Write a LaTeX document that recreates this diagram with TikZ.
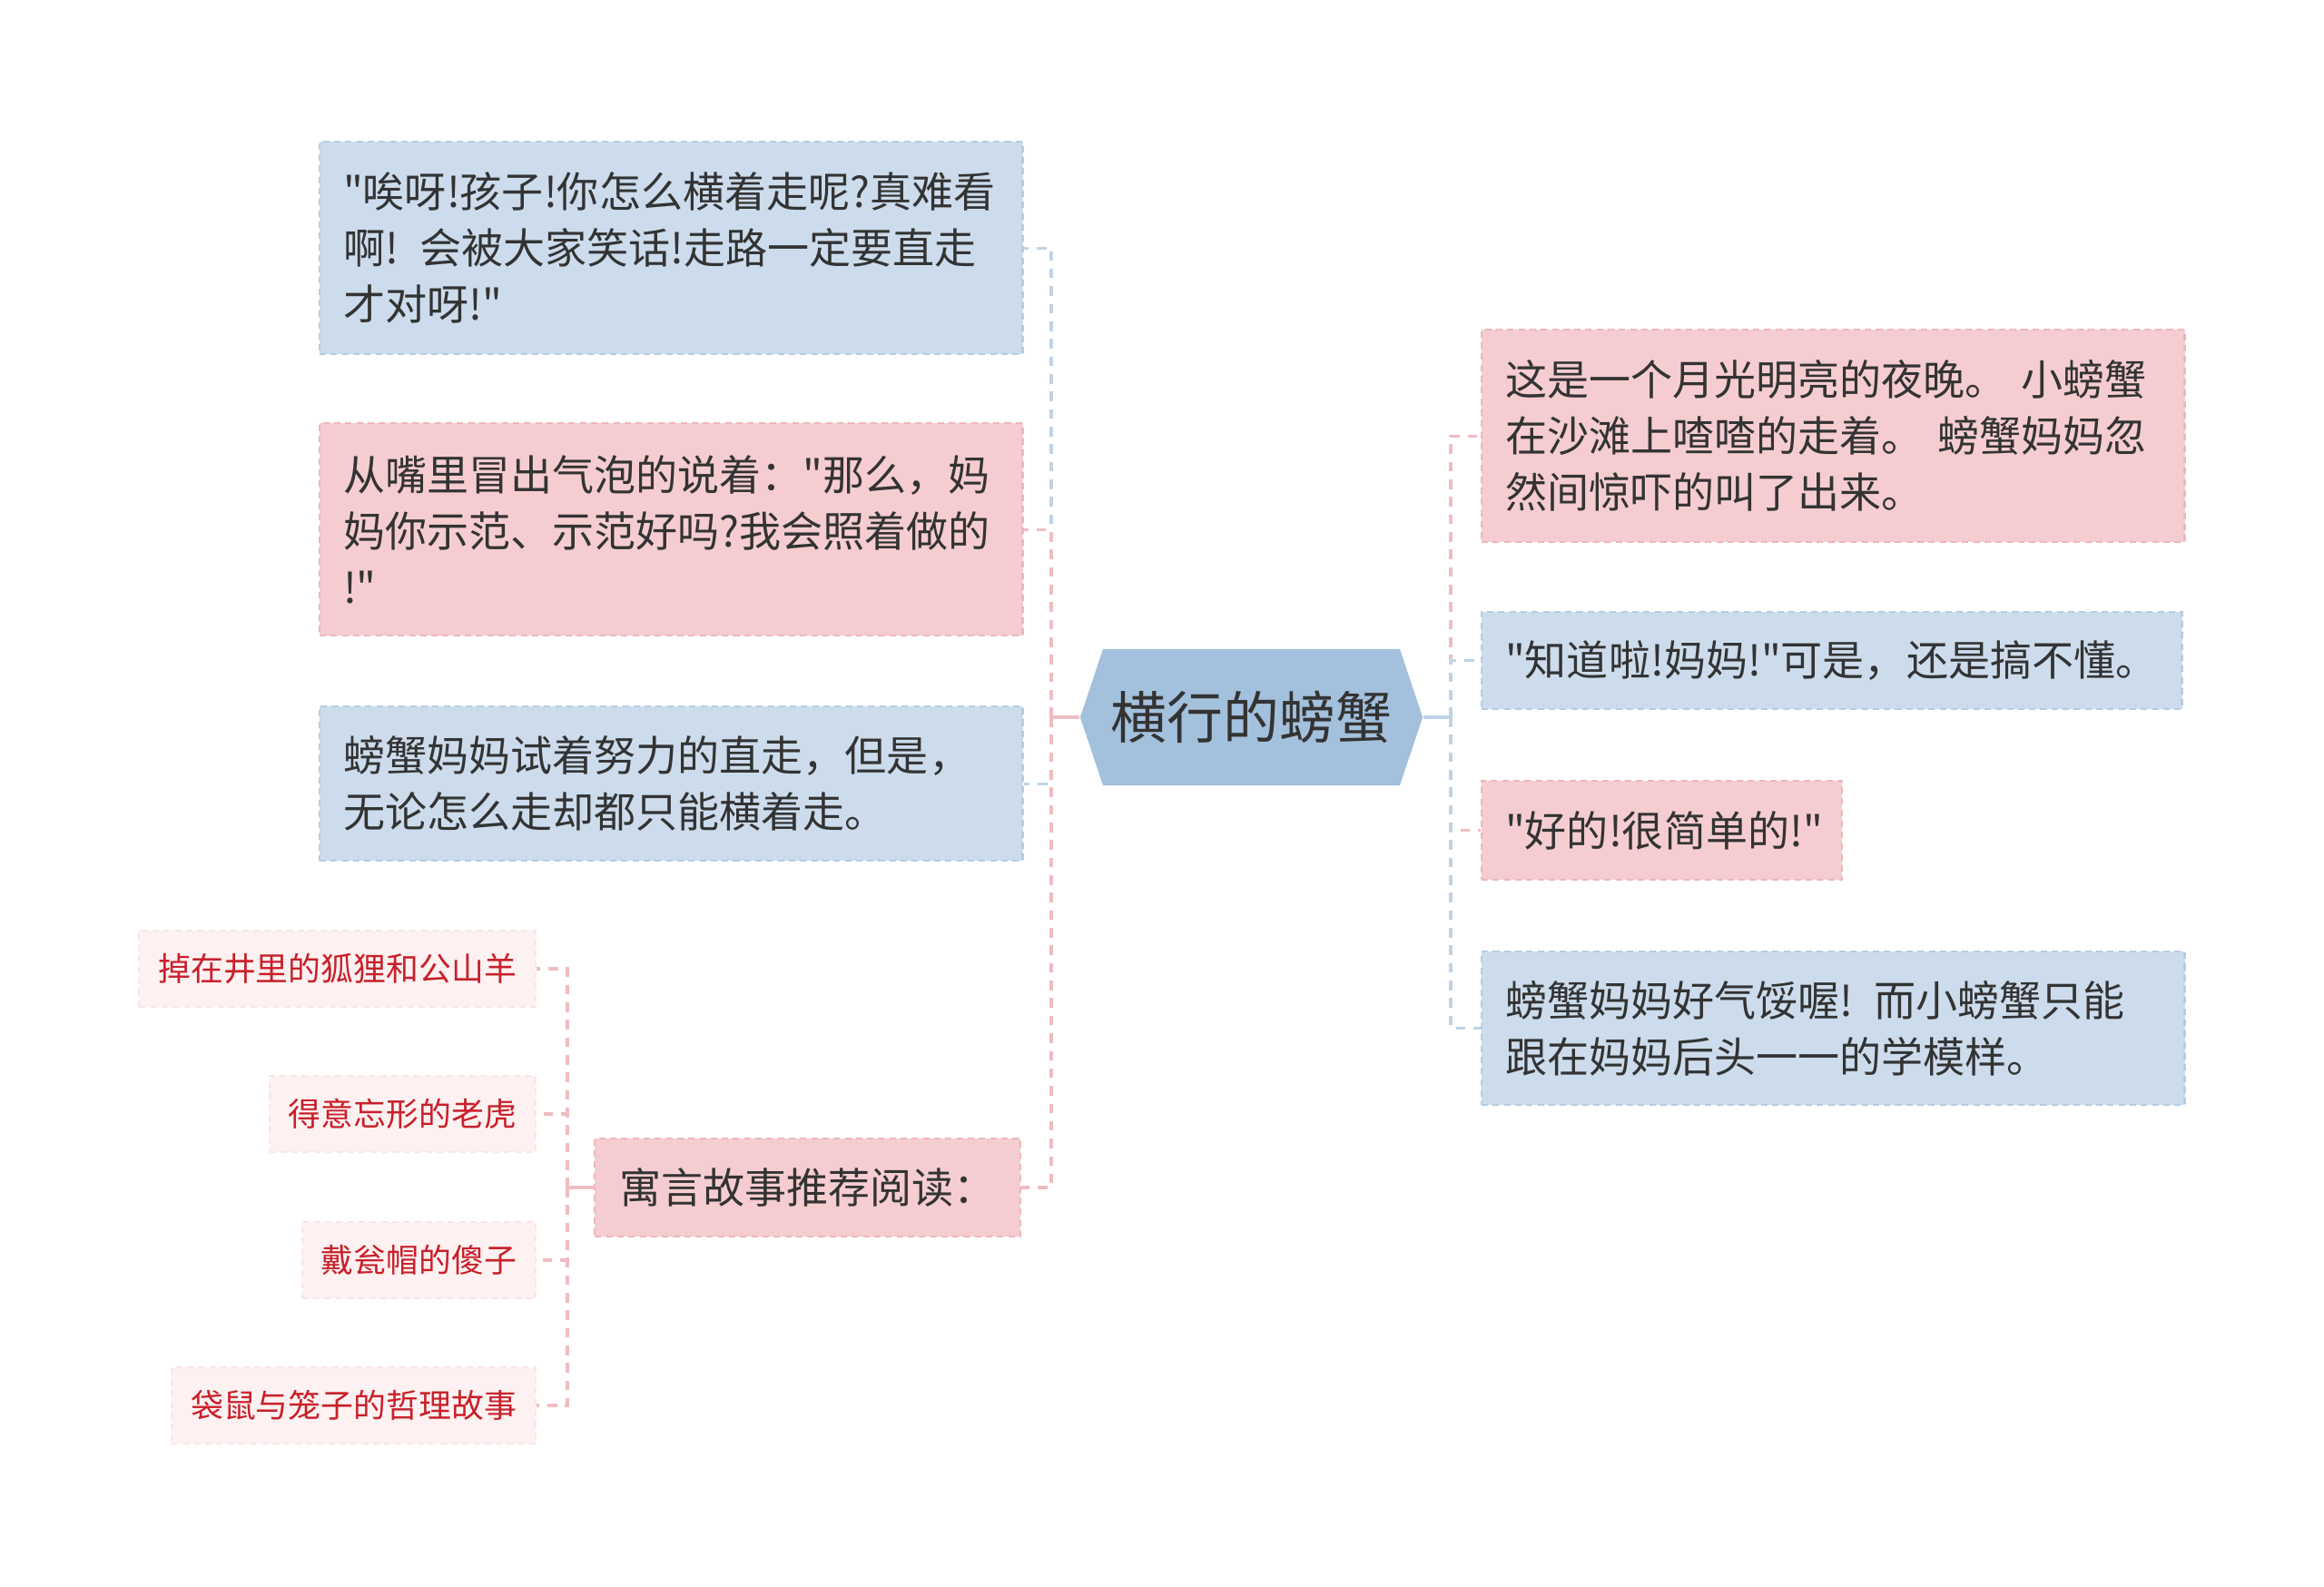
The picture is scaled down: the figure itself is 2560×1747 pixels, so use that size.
\documentclass[tikz,border=0pt]{standalone}
\usepackage{fontspec}
\setmainfont{Noto Sans CJK SC}[Ligatures=TeXOff]
\usepackage{xcolor}
\usepackage{tikz}
\usetikzlibrary{shapes.symbols}

\definecolor{hubblue}{HTML}{A3C0DC}
\definecolor{leafblue}{HTML}{CCDCEC}
\definecolor{leafblueline}{HTML}{B6CCE3}
\definecolor{leafpink}{HTML}{F5CDD0}
\definecolor{leafpinkline}{HTML}{EDB7BC}
\definecolor{subpink}{HTML}{FDF1F1}
\definecolor{subpinkline}{HTML}{F9E6E7}
\definecolor{txtgray}{HTML}{333333}
\definecolor{subred}{HTML}{C8202A}
\definecolor{linkblue}{HTML}{BFD3E6}
\definecolor{linkpink}{HTML}{EFBCC1}

\newcommand\mainsize{\fontsize{13.1pt}{17.6pt}\selectfont}
\newcommand\hubsize{\fontsize{17.6pt}{21pt}\selectfont}
\newcommand\subsize{\fontsize{10.2pt}{12pt}\selectfont}

\begin{document}
\begin{tikzpicture}[x=0.01cm, y=-0.01cm,
    leaf/.style={rectangle, dashed, dash pattern=on 2pt off 1.5pt, line width=0.6pt,
        text=txtgray, font=\mainsize, align=left, inner xsep=0.26cm, inner ysep=0pt,
        anchor=north west},
    blueleaf/.style={leaf, fill=leafblue, draw=leafblueline},
    pinkleaf/.style={leaf, fill=leafpink, draw=leafpinkline},
    subleaf/.style={leaf, fill=subpink, draw=subpinkline, text=subred, font=\subsize,
        inner xsep=0.21cm, minimum height=0.84cm, anchor=east},
    link/.style={line width=0.9pt, dash pattern=on 3pt off 2.5pt},
    bluelink/.style={link, draw=linkblue},
    pinklink/.style={link, draw=linkpink}]
    %GRID
    %\draw[lightgray] (0,0) grid[step=100] (2560,1747);
    \fill[white] (0,0) rectangle (2560,1747);
    \useasboundingbox (0,0) rectangle (2560,1747);
    %CENTER
    \node[signal, signal to=west and east, signal pointer angle=143, fill=hubblue,
        minimum width=3.77cm, minimum height=1.5cm, inner sep=0pt,
        text=txtgray, font=\hubsize] (hub) at (1378.5,790) {横行的螃蟹};
    \coordinate (ltrunk) at (1158,790);
    \coordinate (rtrunk) at (1598,790);
    %LEFT BOXES
    \node[blueleaf, text width=7.22cm, minimum height=2.34cm] (scold) at (351,155)
        {"唉呀!孩子!你怎么横着走呢?真难看\\啊! 会被大家笑话!走路一定要直走\\才对呀!"};
    \node[pinkleaf, text width=7.22cm, minimum height=2.34cm] (bubble) at (351,465)
        {从嘴里冒出气泡的说着："那么，妈\\妈你示范、示范好吗?我会照着做的\\!"};
    \node[blueleaf, text width=7.22cm, minimum height=1.70cm] (tries) at (351,777)
        {螃蟹妈妈试着努力的直走，但是，\\无论怎么走却都只能横着走。};
    \node[pinkleaf, anchor=east, minimum height=1.08cm, inner xsep=0.27cm] (fable) at (1125,1308)
        {寓言故事推荐阅读：};
    %FABLES
    \node[subleaf] (foxgoat) at (591,1067) {掉在井里的狐狸和公山羊};
    \node[subleaf] (tiger) at (591,1227) {得意忘形的老虎};
    \node[subleaf] (fool) at (591,1388) {戴瓮帽的傻子};
    \node[subleaf] (roo) at (591,1548) {袋鼠与笼子的哲理故事};
    \coordinate (strunk) at (625,1308);
    %RIGHT BOXES
    \node[pinkleaf, text width=7.22cm, minimum height=2.34cm] (night) at (1631,362)
        {这是一个月光明亮的夜晚。 小螃蟹\\在沙滩上喳喳的走着。 螃蟹妈妈忽\\然间惊吓的叫了出来。};
    \node[blueleaf, text width=7.19cm, minimum height=1.07cm] (knew) at (1631,673)
        {"知道啦!妈妈!"可是，还是搞不懂。};
    \node[pinkleaf, text width=3.45cm, minimum height=1.09cm] (easy) at (1631,859)
        {"好的!很简单的!"};
    \node[blueleaf, text width=7.22cm, minimum height=1.69cm] (follow) at (1631,1047)
        {螃蟹妈妈好气馁喔! 而小螃蟹只能\\跟在妈妈后头一一的学模样。};
    %LINES
    \draw[pinklink, solid] (hub.west) -- (ltrunk);
    \draw[bluelink, solid] (hub.east) -- (rtrunk);
    \draw[bluelink] (ltrunk) |- (scold.east);
    \draw[pinklink] (ltrunk) |- (bubble.east);
    \draw[bluelink] (ltrunk) |- (tries.east);
    \draw[pinklink] (ltrunk) |- (fable.east);
    \draw[pinklink] (rtrunk) |- (night.west);
    \draw[bluelink] (rtrunk) |- (knew.west);
    \draw[pinklink] (rtrunk) |- (easy.west);
    \draw[bluelink] (rtrunk) |- (follow.west);
    \draw[pinklink, solid] (fable.west) -- (strunk);
    \draw[pinklink] (strunk) |- (foxgoat.east);
    \draw[pinklink] (strunk) |- (tiger.east);
    \draw[pinklink] (strunk) |- (fool.east);
    \draw[pinklink] (strunk) |- (roo.east);
\end{tikzpicture}
\end{document}
